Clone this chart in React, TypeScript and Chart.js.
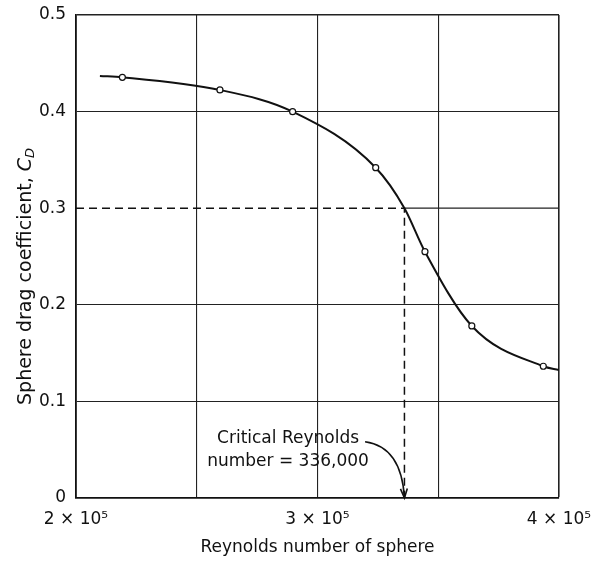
import React, { useEffect, useRef } from 'react';
import { Chart, registerables } from 'chart.js';

Chart.register(...registerables);

// ---- data ----
const X_MIN = 200000;
const X_MAX = 400000;
const X_STEP = 50000;
const Y_MIN = 0;
const Y_MAX = 0.5;
const Y_STEP = 0.1;

const xLabelValues = [200000, 300000, 400000];
const xTickLabels = ['2 × 10⁵', '3 × 10⁵', '4 × 10⁵'];

// measured points (open circles)
const measuredRe = [219200, 259600, 289700, 324100, 344500, 363900, 393500];
const measuredCd = [0.4355, 0.4224, 0.3999, 0.3419, 0.255, 0.1781, 0.1364];

// ends of the faired curve
const curveStartRe = 209900;
const curveStartCd = 0.4369;
const curveEndRe = 400000;
const curveEndCd = 0.1325;

// critical point (curve passes through it)
const criticalRe = 336000;
const criticalCd = 0.3;

const annotationLines = ['Critical Reynolds', 'number = 336,000'];
const annotationRe = 287800;
const annotationCd = [0.0569, 0.0331];
const arrowStartRe = 319700;
const arrowStartCd = 0.0583;

const yTitleMain = 'Sphere drag coefficient, ';
const yTitleSymbol = 'C';
const yTitleSub = 'D';
const xTitle = 'Reynolds number of sphere';

const FONT = "'DejaVu Sans', sans-serif";
const INK = '#111';

const annotPlugin = {
  id: 'annot',
  afterDraw(chart: any) {
    const ctx = chart.ctx as CanvasRenderingContext2D;
    const xs = chart.scales.x;
    const ys = chart.scales.y;
    ctx.save();
    // y title
    ctx.fillStyle = INK;
    ctx.textBaseline = 'alphabetic';
    ctx.font = `19px ${FONT}`;
    const w1 = ctx.measureText(yTitleMain).width;
    ctx.font = `italic 19px ${FONT}`;
    const w2 = ctx.measureText(yTitleSymbol).width;
    ctx.font = `italic 13px ${FONT}`;
    const w3 = ctx.measureText(yTitleSub).width;
    const total = w1 + w2 + w3;
    const cy = (chart.chartArea.top + chart.chartArea.bottom) / 2 + 20;
    ctx.translate(31, cy);
    ctx.rotate(-Math.PI / 2);
    let u = -total / 2;
    ctx.textAlign = 'left';
    ctx.font = `19px ${FONT}`;
    ctx.fillText(yTitleMain, u, 0);
    u += w1;
    ctx.font = `italic 19px ${FONT}`;
    ctx.fillText(yTitleSymbol, u, 0);
    u += w2;
    ctx.font = `italic 13px ${FONT}`;
    ctx.fillText(yTitleSub, u, 3);
    ctx.restore();

    // annotation text
    ctx.save();
    ctx.fillStyle = INK;
    ctx.font = `17px ${FONT}`;
    ctx.textAlign = 'center';
    ctx.textBaseline = 'alphabetic';
    annotationLines.forEach((line, i) => {
      ctx.fillText(line, xs.getPixelForValue(annotationRe), ys.getPixelForValue(annotationCd[i]));
    });
    // arrow
    const sx = xs.getPixelForValue(arrowStartRe);
    const sy = ys.getPixelForValue(arrowStartCd);
    const ex = xs.getPixelForValue(criticalRe);
    const ey = ys.getPixelForValue(0);
    const cx = ex - 3;
    const cyy = sy + 5;
    ctx.strokeStyle = INK;
    ctx.lineWidth = 1.6;
    ctx.beginPath();
    ctx.moveTo(sx, sy);
    ctx.quadraticCurveTo(cx, cyy, ex, ey);
    ctx.stroke();
    const ang = Math.atan2(ey - cyy, ex - cx);
    const len = 10;
    ctx.beginPath();
    ctx.moveTo(ex - len * Math.cos(ang - 0.35), ey - len * Math.sin(ang - 0.35));
    ctx.lineTo(ex, ey);
    ctx.lineTo(ex - len * Math.cos(ang + 0.35), ey - len * Math.sin(ang + 0.35));
    ctx.stroke();
    ctx.restore();
  },
};

export default function App() {
  const ref = useRef<HTMLCanvasElement>(null);
  useEffect(() => {
    if (!ref.current) return;
    const markerData = measuredRe.map((x, i) => ({ x, y: measuredCd[i] }));
    const curveData = [
      { x: curveStartRe, y: curveStartCd },
      ...markerData,
      { x: criticalRe, y: criticalCd },
      { x: curveEndRe, y: curveEndCd },
    ].sort((a, b) => a.x - b.x);
    const noPad = (s: any) => {
      s.paddingLeft = 0;
      s.paddingRight = 0;
      s.paddingTop = 0;
      s.paddingBottom = 0;
    };
    const chart = new Chart(ref.current, {
      type: 'line',
      data: {
        datasets: [
          {
            data: markerData,
            showLine: false,
            pointRadius: 3,
            pointBackgroundColor: '#fff',
            pointBorderColor: INK,
            pointBorderWidth: 1.2,
            order: 0,
          },
          {
            data: curveData,
            borderColor: INK,
            borderWidth: 2,
            cubicInterpolationMode: 'monotone',
            pointRadius: 0,
            order: 1,
          },
          {
            data: [
              { x: X_MIN, y: criticalCd },
              { x: criticalRe, y: criticalCd },
              { x: criticalRe, y: 0 },
            ],
            borderColor: INK,
            borderWidth: 1.5,
            borderDash: [8, 5],
            pointRadius: 0,
            tension: 0,
            order: 2,
          },
          {
            data: [
              { x: criticalRe, y: criticalCd },
              { x: X_MAX, y: criticalCd },
            ],
            borderColor: '#222',
            borderWidth: 1.2,
            pointRadius: 0,
            tension: 0,
            order: 3,
          },
        ],
      } as any,
      options: {
        responsive: false,
        animation: false,
        devicePixelRatio: 1,
        layout: { padding: { top: 15, right: 33, left: 0, bottom: 0 } },
        plugins: { legend: { display: false }, tooltip: { enabled: false } },
        scales: {
          x: {
            type: 'linear',
            min: X_MIN,
            max: X_MAX,
            afterFit: (s: any) => {
              s.height = 67;
              noPad(s);
            },
            ticks: {
              stepSize: X_STEP,
              autoSkip: false,
              maxRotation: 0,
              padding: 11,
              color: INK,
              font: { family: FONT, size: 17 },
              callback: (v: any) => {
                const i = xLabelValues.indexOf(Number(v));
                return i >= 0 ? xTickLabels[i] : '';
              },
            },
            grid: {
              drawTicks: false,
              color: '#222',
              lineWidth: (c: any) => (c.tick && c.tick.value === X_MAX ? 1.6 : 1.1),
            },
            border: { display: true, color: INK, width: 1.8 },
            title: {
              display: true,
              text: xTitle,
              color: INK,
              font: { family: FONT, size: 17 },
              padding: { top: 0, bottom: 7 },
            },
          },
          y: {
            type: 'linear',
            min: Y_MIN,
            max: Y_MAX,
            afterFit: (s: any) => {
              s.width = 76;
              noPad(s);
            },
            ticks: {
              stepSize: Y_STEP,
              padding: 10,
              color: INK,
              font: { family: FONT, size: 17 },
              callback: (v: any) => String(Number(Number(v).toFixed(1))),
            },
            grid: {
              drawTicks: false,
              color: (c: any) =>
                c.tick && Math.abs(c.tick.value - criticalCd) < 1e-9 ? 'rgba(0,0,0,0)' : '#222',
              lineWidth: (c: any) => (c.tick && Math.abs(c.tick.value - Y_MAX) < 1e-9 ? 1.6 : 1.1),
            },
            border: { display: true, color: INK, width: 1.8 },
          },
        },
      } as any,
      plugins: [annotPlugin],
    });
    return () => chart.destroy();
  }, []);
  return (
    <div style={{ position: 'absolute', left: 0, top: 0, width: 592, height: 565, background: '#fff' }}>
      <canvas ref={ref} width={592} height={565} style={{ display: 'block' }} />
    </div>
  );
}
